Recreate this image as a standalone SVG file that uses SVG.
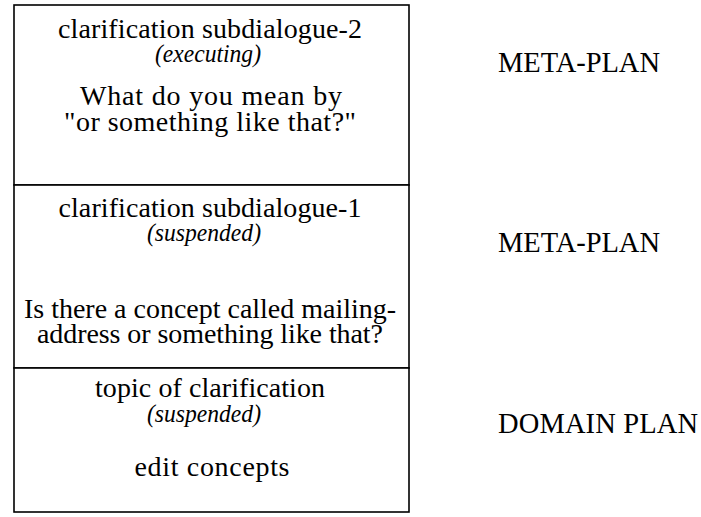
<svg xmlns="http://www.w3.org/2000/svg" width="701" height="517" viewBox="0 0 701 517">
<style>
.box{fill:#fff;stroke:#000;stroke-width:1.6}
.t{font-family:"Liberation Serif","Times New Roman",serif;font-size:28px;fill:#000;text-anchor:middle}
.i{font-style:italic;font-size:26px}
.lab{font-family:"Liberation Serif","Times New Roman",serif;font-size:28.5px;fill:#000}
</style>
<rect width="701" height="517" fill="#fff"/>
<g id="connectors"></g>
<g id="box-subdialogue-2">
<rect class="box" x="14" y="5" width="395" height="180"/>
<text class="t" x="210" y="38" textLength="304">clarification subdialogue-2</text>
<text class="t i" x="208" y="62" textLength="106" lengthAdjust="spacingAndGlyphs">(executing)</text>
<text class="t" x="211" y="105" textLength="262">What do you mean by</text>
<text class="t" x="210" y="131" textLength="292">"or something like that?"</text>
</g>
<g id="box-subdialogue-1">
<rect class="box" x="14" y="185" width="395" height="183"/>
<text class="t" x="210" y="217" textLength="303">clarification subdialogue-1</text>
<text class="t i" x="204" y="241" textLength="114" lengthAdjust="spacingAndGlyphs">(suspended)</text>
<text class="t" x="210" y="318" textLength="372">Is there a concept called mailing-</text>
<text class="t" x="210" y="343" textLength="346">address or something like that?</text>
</g>
<g id="box-topic">
<rect class="box" x="14" y="368" width="395" height="144"/>
<text class="t" x="210" y="397" textLength="230">topic of clarification</text>
<text class="t i" x="204" y="422" textLength="114" lengthAdjust="spacingAndGlyphs">(suspended)</text>
<text class="t" x="212" y="476" textLength="155">edit concepts</text>
</g>
<g id="label-meta-2"><text class="lab" x="498" y="72" textLength="162">META-PLAN</text></g>
<g id="label-meta-1"><text class="lab" x="498" y="252" textLength="162">META-PLAN</text></g>
<g id="label-domain"><text class="lab" x="498" y="433" textLength="200">DOMAIN PLAN</text></g>
</svg>
